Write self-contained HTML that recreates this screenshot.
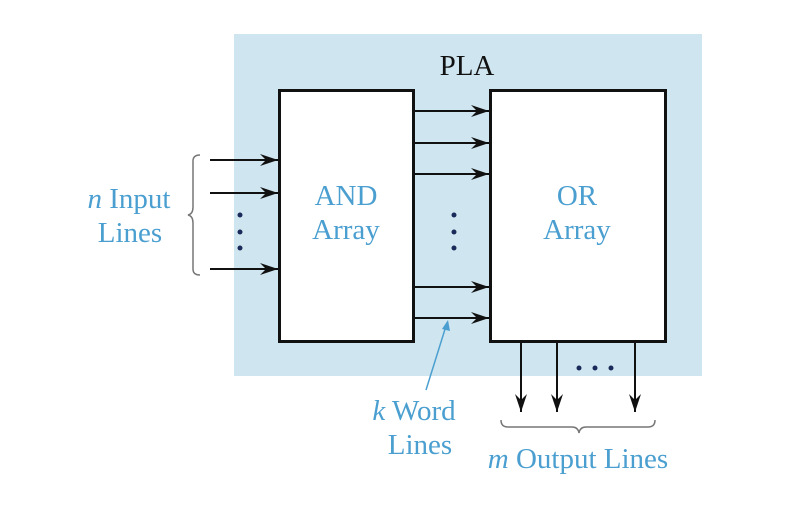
<!DOCTYPE html>
<html><head><style>body{margin:0;background:#fff}svg{display:block}</style></head><body>
<svg width="810" height="508" viewBox="0 0 810 508" xmlns="http://www.w3.org/2000/svg">
<defs><marker id="a" viewBox="0 0 18 12" refX="18" refY="6" markerWidth="18" markerHeight="12" markerUnits="userSpaceOnUse" orient="auto"><path d="M0,0 L18,6 L0,12 L6,6 Z" fill="#111"/></marker></defs>
<rect x="234" y="34" width="468" height="342" fill="#cfe5ef"/>
<rect x="279.5" y="90.5" width="134" height="251" fill="#fff" stroke="#111" stroke-width="3"/>
<rect x="490.5" y="90.5" width="175" height="251" fill="#fff" stroke="#111" stroke-width="3"/>
<g stroke="#111" stroke-width="2" marker-end="url(#a)">
<line x1="210" y1="160" x2="278" y2="160"/><line x1="210" y1="193" x2="278" y2="193"/><line x1="210" y1="269" x2="278" y2="269"/>
<line x1="415" y1="111" x2="489" y2="111"/><line x1="415" y1="143" x2="489" y2="143"/><line x1="415" y1="174" x2="489" y2="174"/><line x1="415" y1="287" x2="489" y2="287"/><line x1="415" y1="318" x2="489" y2="318"/>
<line x1="521" y1="343" x2="521" y2="412"/><line x1="557" y1="343" x2="557" y2="412"/><line x1="635" y1="343" x2="635" y2="412"/>
</g>
<g fill="#1a2a5a"><circle cx="240" cy="215" r="2.5"/><circle cx="240" cy="232" r="2.5"/><circle cx="240" cy="248" r="2.5"/>
<circle cx="454" cy="215" r="2.5"/><circle cx="454" cy="232" r="2.5"/><circle cx="454" cy="248" r="2.5"/>
<circle cx="579" cy="368" r="2.5"/><circle cx="595" cy="368" r="2.5"/><circle cx="611" cy="368" r="2.5"/></g>
<path d="M200,155 q-7,0 -7,6 v46 q0,7 -5,8 q5,1 5,8 v46 q0,6 7,6" fill="none" stroke="#777" stroke-width="1.5"/>
<path d="M501,420 q0,7 7,7 h64 q6,0 7,6 q1,-6 7,-6 h62 q7,0 7,-7" fill="none" stroke="#777" stroke-width="1.5"/>
<line x1="426" y1="390" x2="446" y2="326" stroke="#4a9fd0" stroke-width="1.5"/>
<path d="M448,320 L450,331 L442,329 Z" fill="#4a9fd0"/>
<g font-family="Liberation Serif, serif" font-size="29" text-anchor="middle">
<text x="467" y="75" fill="#111">PLA</text>
<g fill="#4a9fd0">
<text x="346" y="205">AND</text><text x="346" y="239">Array</text>
<text x="577" y="205">OR</text><text x="577" y="239">Array</text>
<text x="129" y="208"><tspan font-style="italic">n</tspan> Input</text><text x="130" y="242">Lines</text>
<text x="414" y="420"><tspan font-style="italic">k</tspan> Word</text><text x="420" y="454">Lines</text>
<text x="578" y="468"><tspan font-style="italic">m</tspan> Output Lines</text>
</g></g>
</svg>
</body></html>
